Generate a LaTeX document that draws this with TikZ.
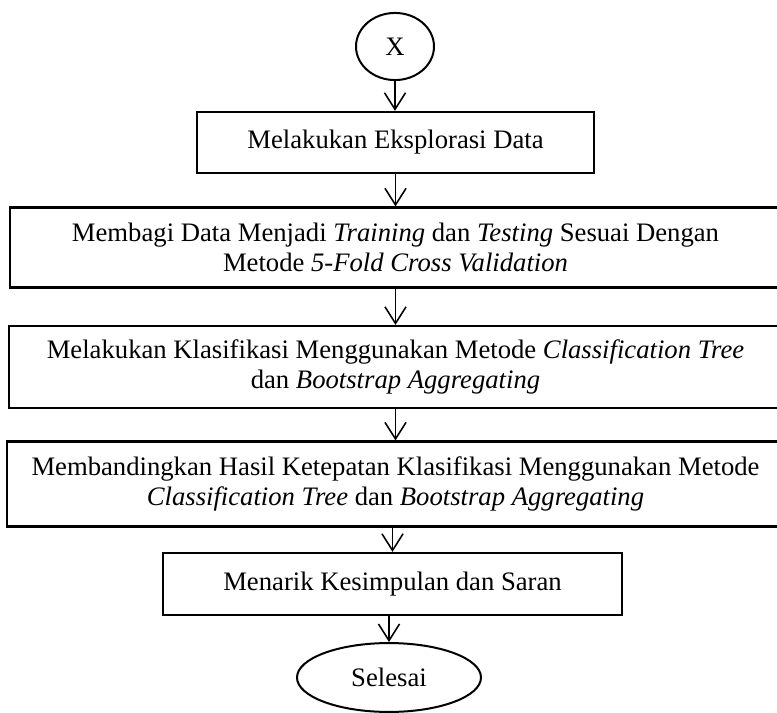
\documentclass[tikz,border=0pt]{standalone}
\usepackage{fontspec}
\setmainfont{Liberation Serif}
\usetikzlibrary{shapes.geometric, arrows.meta, positioning}
\tikzset{
  procbox/.style={draw, line width=1pt, align=center, inner sep=0pt,
                  font=\fontsize{12}{13.4}\selectfont},
  termnode/.style={draw, ellipse, line width=0.9pt, inner sep=0pt,
                   font=\fontsize{12}{13.4}\selectfont},
  flowarr/.style={-{Straight Barb[length=7.5pt, width=9.5pt]}, line width=0.7pt},
}

\begin{document}
\begin{tikzpicture}[x=0.45pt, y=-0.45pt]
  \useasboundingbox (0,0) rectangle (777,712);

  \node[termnode, minimum width=35.1pt, minimum height=30.2pt] (start) at (395,46.5) {X};
  \node[procbox, minimum width=178.6pt, minimum height=27.5pt] (explore) at (395.5,142.5)
    {Melakukan Eksplorasi Data};
  \node[procbox, minimum width=347pt, minimum height=36pt] (split) at (395.5,247.5)
    {Membagi Data Menjadi \textit{Training} dan \textit{Testing} Sesuai Dengan\\
     Metode \textit{5-Fold Cross Validation}};
  \node[procbox, minimum width=347.9pt, minimum height=36.9pt] (classify) at (395.5,367)
    {Melakukan Klasifikasi Menggunakan Metode \textit{Classification Tree}\\
     dan \textit{Bootstrap Aggregating}};
  \node[procbox, minimum width=349.7pt, minimum height=38.2pt] (compare) at (395.5,484)
    {Membandingkan Hasil Ketepatan Klasifikasi Menggunakan Metode\\
     \textit{Classification Tree} dan \textit{Bootstrap Aggregating}};
  \node[procbox, minimum width=206.5pt, minimum height=27.9pt] (conclude) at (392.5,584)
    {Menarik Kesimpulan dan Saran};
  \node[termnode, minimum width=82.8pt, minimum height=31pt] (finish) at (389,677.5) {Selesai};

  % alur
  \draw[flowarr] (start.south) -- (start.south |- explore.north);
  \draw[flowarr] (explore.south) -- (explore.south |- split.north);
  \draw[flowarr] (split.south) -- (split.south |- classify.north);
  \draw[flowarr] (classify.south) -- (classify.south |- compare.north);
  \draw[flowarr] (conclude.north |- compare.south) -- (conclude.north);
  \draw[flowarr] (finish.north |- conclude.south) -- (finish.north);
\end{tikzpicture}
\end{document}
